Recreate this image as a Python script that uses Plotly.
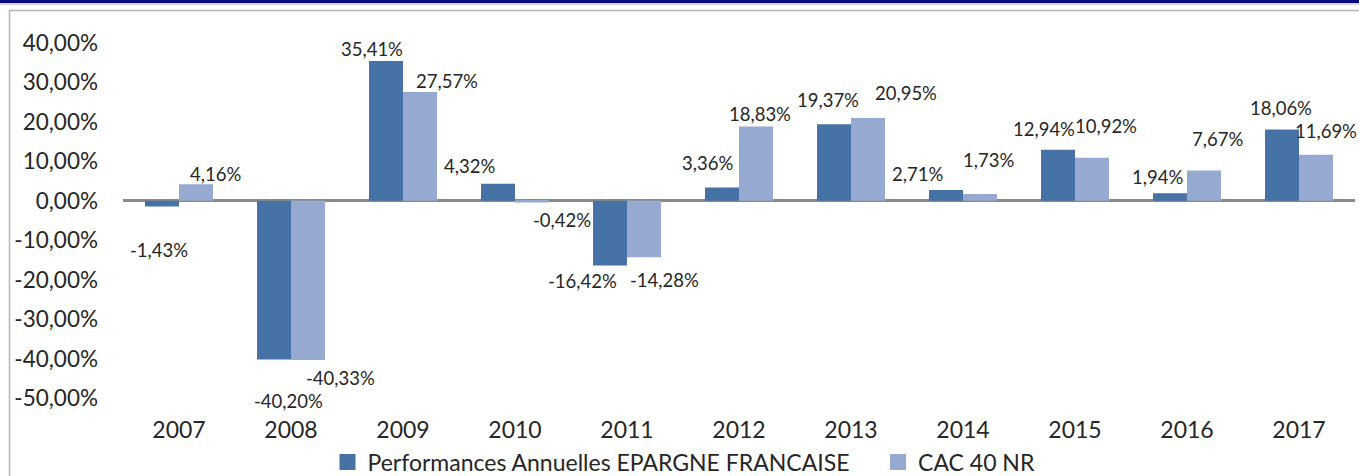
import plotly.graph_objects as go

# ---- data ----
years = ["2007", "2008", "2009", "2010", "2011", "2012", "2013", "2014", "2015", "2016", "2017"]
epargne = [-1.43, -40.20, 35.41, 4.32, -16.42, 3.36, 19.37, 2.71, 12.94, 1.94, 18.06]
cac40 = [4.16, -40.33, 27.57, -0.42, -14.28, 18.83, 20.95, 1.73, 10.92, 7.67, 11.69]
series_names = ["Performances Annuelles EPARGNE FRANCAISE", "CAC 40 NR"]
y_ticks = [40, 30, 20, 10, 0, -10, -20, -30, -40, -50]

# ---- label placement (pixel offsets from category centre / bar end) ----
dark_label_dx = [-20, -3, -31, -46, -45, -32, -23, -46, -31, -30, -18]
dark_label_dy = [-44, -42, 12, 18, -15, 25, 24, 16, 21, 16, 22]
light_label_dx = [36, 49, 44, 47, 37, 21, 55, 25, 31, 30, 27]
light_label_dy = [10, -18, 11, -18, -23, 12, 25, 34, 32, 32, 24]

DARK = "#4672A5"
LIGHT = "#95A9D1"
TXT = "#262626"
FONT = "Lato, Open Sans, sans-serif"


def fmt(v):
    return f"{v:.2f}".replace(".", ",") + "%"


fig = go.Figure()
fig.add_trace(go.Bar(x=years, y=epargne, name=series_names[0], marker_color=DARK,
                     marker_line_width=0, showlegend=False))
fig.add_trace(go.Bar(x=years, y=cac40, name=series_names[1], marker_color=LIGHT,
                     marker_line_width=0, showlegend=False))
# legend entries with larger squares (no visible points)
legend_pad = ["\u00a0" * 4, ""]
for nm, col, pad in zip(series_names, [DARK, LIGHT], legend_pad):
    fig.add_trace(go.Scatter(x=[years[0]], y=[None], mode="markers", name=nm + pad,
                             marker=dict(symbol="square", size=17, color=col),
                             hoverinfo="skip"))

ann = []
for i, yr in enumerate(years):
    ann.append(dict(x=i, y=epargne[i], xref="x", yref="y", text=fmt(epargne[i]),
                    showarrow=False, xshift=dark_label_dx[i], yshift=dark_label_dy[i],
                    font=dict(size=18.5, color=TXT, family=FONT)))
    ann.append(dict(x=i, y=cac40[i], xref="x", yref="y", text=fmt(cac40[i]),
                    showarrow=False, xshift=light_label_dx[i], yshift=light_label_dy[i],
                    font=dict(size=18.5, color=TXT, family=FONT)))

W, H = 1359, 476
ML, MR, MT, MB = 123, 4, 35, 66
PW, PH = W - ML - MR, H - MT - MB


def px(xpix):
    return (xpix - ML) / PW


def py(ypix):
    return (H - MB - ypix) / PH


shapes = [
    # top navy band
    dict(type="rect", xref="paper", yref="paper", x0=px(0), x1=px(W), y0=py(3), y1=py(0),
         fillcolor="#0a0a80", line_width=0, layer="above"),
    dict(type="line", xref="paper", yref="paper", x0=px(0), x1=px(W), y0=py(4), y1=py(4),
         line=dict(color="#c8c8d8", width=1.5), layer="above"),
    # chart frame
    dict(type="rect", xref="paper", yref="paper", x0=px(9.5), x1=px(W + 20), y0=py(10.5), y1=py(H + 20),
         line=dict(color="#b4b4b4", width=1.5), fillcolor="rgba(0,0,0,0)", layer="below"),
]

fig.update_layout(
    width=W, height=H,
    margin=dict(l=ML, r=MR, t=MT, b=MB, pad=0, autoexpand=False),
    paper_bgcolor="white", plot_bgcolor="white",
    barmode="group", bargap=0.393, bargroupgap=0,
    font=dict(family=FONT, color=TXT, size=23),
    xaxis=dict(type="category", categoryorder="array", categoryarray=years,
               range=[-0.5, len(years) - 0.5], automargin=False,
               showgrid=False, showline=False, ticks="", zeroline=False,
               tickfont=dict(size=23, color=TXT), ticklabelstandoff=4, fixedrange=True),
    yaxis=dict(range=[-53, 42], tickvals=y_ticks, ticktext=[fmt(v) for v in y_ticks],
               automargin=False,
               showgrid=False, showline=False, ticks="", zeroline=True,
               zerolinecolor="#8a8a8a", zerolinewidth=2.5,
               tickfont=dict(size=22.5, color=TXT), ticklabelstandoff=24),
    legend=dict(orientation="h", x=px(684), xanchor="center",
                yref="container", y=1 - 462 / H, yanchor="middle",
                font=dict(size=23, color=TXT), itemsizing="trace", bgcolor="rgba(0,0,0,0)",
                tracegroupgap=0, itemclick=False),
    annotations=ann,
    shapes=shapes,
)

fig.write_html("out.html", config={"displayModeBar": False},
               post_script="document.body.style.margin='0';")
